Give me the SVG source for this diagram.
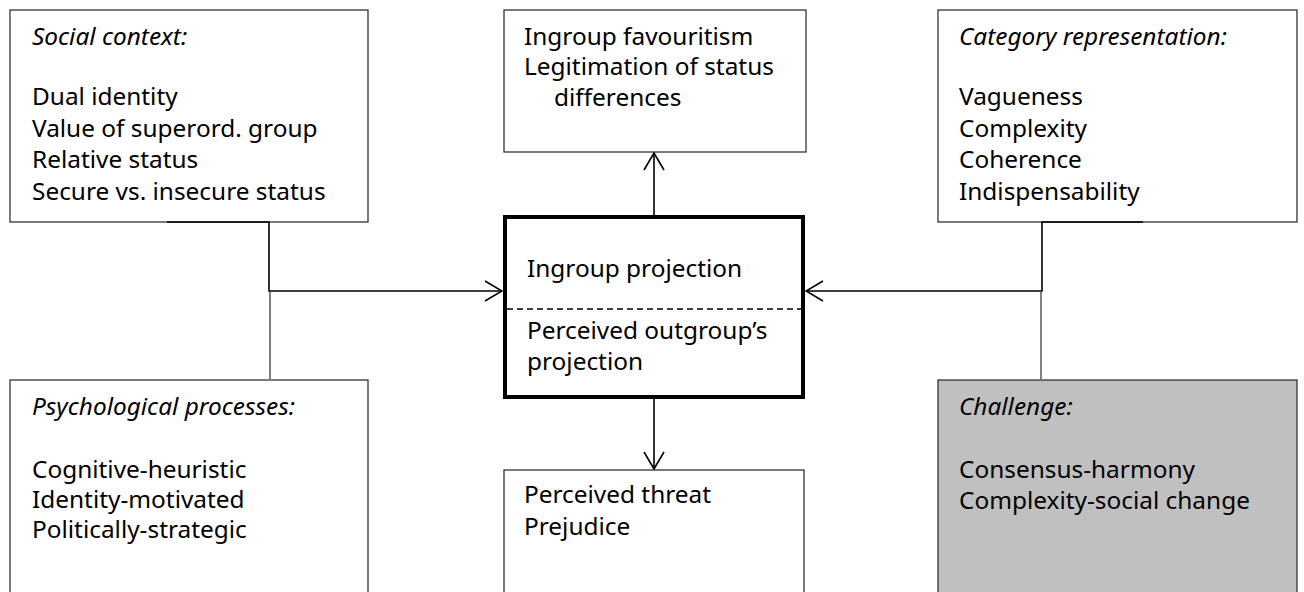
<svg xmlns="http://www.w3.org/2000/svg" width="1304" height="592" viewBox="0 0 1304 592">
<style>
text{font-family:"Noto Sans","Open Sans","Liberation Sans",sans-serif;font-size:24.4px;fill:#000}
.it{font-style:italic}
.box{fill:#fff;stroke:#333;stroke-width:1.3}
.gray{fill:#c0c0c0}
.main{fill:#fff;stroke:#000;stroke-width:4}
.c{fill:none;stroke:#000;stroke-width:1.6}
.g{fill:none;stroke:#808080;stroke-width:2}
</style>
<defs>
<marker id="ah" viewBox="0 0 20 22" refX="19" refY="11" markerWidth="20" markerHeight="22" markerUnits="userSpaceOnUse" orient="auto">
<path d="M2,1 L19,11 L2,21" fill="none" stroke="#000" stroke-width="1.6"/>
</marker>
</defs>
<g id="social-context">
<rect class="box" x="10" y="10" width="358" height="212"/>
<text x="32" y="45" class="it">Social context:</text>
<text x="32" y="105">Dual identity</text>
<text x="32" y="137">Value of superord. group</text>
<text x="32" y="168">Relative status</text>
<text x="32" y="200">Secure vs. insecure status</text>
</g>
<g id="outcomes-top">
<rect class="box" x="504" y="10" width="302" height="142"/>
<text x="524" y="45">Ingroup favouritism</text>
<text x="524" y="75">Legitimation of status</text>
<text x="554" y="106">differences</text>
</g>
<g id="category-representation">
<rect class="box" x="938" y="10" width="359" height="212"/>
<text x="959" y="45" class="it">Category representation:</text>
<text x="959" y="105">Vagueness</text>
<text x="959" y="137">Complexity</text>
<text x="959" y="168">Coherence</text>
<text x="959" y="200">Indispensability</text>
</g>
<g id="projection">
<rect class="main" x="505" y="217" width="298" height="180"/>
<line x1="507" y1="309" x2="801" y2="309" stroke="#000" stroke-width="1.5" stroke-dasharray="6,4"/>
<text x="527" y="277">Ingroup projection</text>
<text x="527" y="339">Perceived outgroup’s</text>
<text x="527" y="370">projection</text>
</g>
<g id="psychological-processes">
<rect class="box" x="10" y="380" width="358" height="230"/>
<text x="32" y="415" class="it">Psychological processes:</text>
<text x="32" y="478">Cognitive-heuristic</text>
<text x="32" y="508">Identity-motivated</text>
<text x="32" y="538">Politically-strategic</text>
</g>
<g id="outcomes-bottom">
<rect class="box" x="504" y="470" width="300" height="140"/>
<text x="524" y="503">Perceived threat</text>
<text x="524" y="535">Prejudice</text>
</g>
<g id="challenge">
<rect class="box gray" x="938" y="380" width="359" height="230"/>
<text x="959" y="415" class="it">Challenge:</text>
<text x="959" y="478">Consensus-harmony</text>
<text x="959" y="509">Complexity-social change</text>
</g>
<g id="connectors">
<polyline class="c" points="167,222 269,222 269,291 502,291" marker-end="url(#ah)"/>
<line class="g" x1="270" y1="292" x2="270" y2="380"/>
<polyline class="c" points="1143,222 1042,222 1042,291 806,291" marker-end="url(#ah)"/>
<line class="g" x1="1041" y1="292" x2="1041" y2="380"/>
<line class="c" x1="654" y1="215" x2="654" y2="153" marker-end="url(#ah)"/>
<line class="c" x1="654" y1="399" x2="654" y2="469" marker-end="url(#ah)"/>
</g>
</svg>
